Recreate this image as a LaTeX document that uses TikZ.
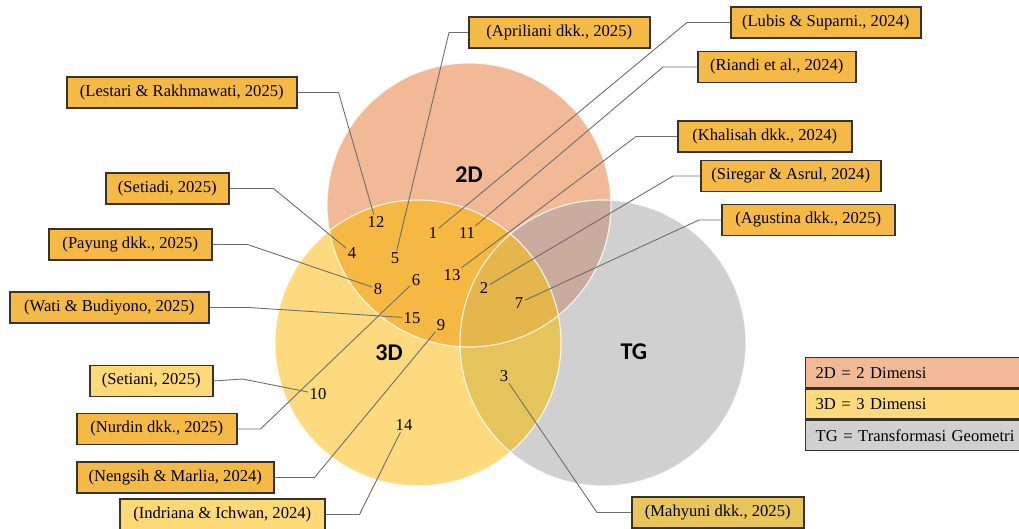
\documentclass[tikz,border=0pt]{standalone}
\usepackage{fontspec}
\setmainfont{Liberation Serif}
\newfontfamily\setfont{Carlito}
\usetikzlibrary{positioning}
\definecolor{twoD}{RGB}{242,185,150}
\definecolor{threeD}{RGB}{253,218,126}
\definecolor{geoT}{RGB}{208,208,208}
\definecolor{twothree}{RGB}{245,184,66}
\definecolor{twogeo}{RGB}{201,172,158}
\definecolor{threegeo}{RGB}{230,196,92}
\definecolor{allthree}{RGB}{228,182,76}
\definecolor{boxfill}{RGB}{245,186,69}
\definecolor{boxlight}{RGB}{253,217,120}
\definecolor{boxmix}{RGB}{232,197,90}
\definecolor{leadgray}{RGB}{110,110,110}
\definecolor{boxedge}{RGB}{55,50,45}
\tikzset{
    ref/.style={
        rectangle, draw=boxedge, line width=1.5pt, fill=boxfill,
        minimum height=31pt, anchor=west, inner xsep=4pt,
        font=\fontsize{16.6}{19}\selectfont
    },
    reflight/.style={ref, fill=boxlight},
    refmix/.style={ref, fill=boxmix},
    num/.style={inner sep=1.5pt, font=\fontsize{16.6}{19}\selectfont},
    setname/.style={font=\setfont\bfseries\fontsize{24}{27}\selectfont},
    leader/.style={draw=leadgray, line width=0.9pt},
    rim/.style={draw=white, line width=1.2pt, draw opacity=0.8},
    legendrow/.style={
        rectangle, draw=boxedge, line width=1.3pt, anchor=north west,
        minimum width=222pt, minimum height=30pt, text width=206pt,
        align=left, inner xsep=10pt, font=\fontsize{16.6}{19}\selectfont
    }
}
\begin{document}
\begin{tikzpicture}[x=1pt, y=-1pt]
\useasboundingbox (0,0) rectangle (1019,529);

% Circles
\def\circTwo{(469,205) circle (142)}
\def\circThree{(418,343) circle (143)}
\def\circGeo{(603,343) circle (143)}
\fill[twoD] \circTwo;
\fill[threeD] \circThree;
\fill[geoT] \circGeo;
\begin{scope}\clip \circTwo; \fill[twothree] \circThree; \fill[twogeo] \circGeo; \end{scope}
\begin{scope}\clip \circThree; \fill[threegeo] \circGeo; \end{scope}
\begin{scope}\clip \circTwo; \clip \circThree; \fill[allthree] \circGeo; \end{scope}
\draw[rim] \circTwo;
\draw[rim] \circThree;
\draw[rim] \circGeo;

% Set names
\node[setname] (name2d) at (469,175) {2D};
\node[setname] (name3d) at (389,353) {3D};
\node[setname] (nametg) at (634,352) {TG};

% Numbers
\node[num] (n1)  at (433,233) {1};
\node[num] (n2)  at (484,288) {2};
\node[num] (n3)  at (504,376) {3};
\node[num] (n4)  at (352,253) {4};
\node[num] (n5)  at (395,258) {5};
\node[num] (n6)  at (416,280) {6};
\node[num] (n7)  at (519,303) {7};
\node[num] (n8)  at (378,289) {8};
\node[num] (n9)  at (441,325) {9};
\node[num] (n10) at (318,394) {10};
\node[num] (n11) at (467,233) {11};
\node[num] (n12) at (376,222) {12};
\node[num] (n13) at (452,275) {13};
\node[num] (n14) at (404,425) {14};
\node[num] (n15) at (412,318) {15};

% References, left side
\node[ref, minimum width=230pt] (lestari)  at (66,92.5)  {(Lestari \& Rakhmawati, 2025)};
\node[ref, minimum width=123pt] (setiadi)  at (105,188.5) {(Setiadi, 2025)};
\node[ref, minimum width=163pt] (payung)   at (48,244.5)  {(Payung dkk., 2025)};
\node[ref, minimum width=199pt] (wati)     at (9,307.5)   {(Wati \& Budiyono, 2025)};
\node[reflight, minimum width=123pt] (setiani) at (89,381) {(Setiani, 2025)};
\node[ref, minimum width=160pt] (nurdin)   at (76,429)    {(Nurdin dkk., 2025)};
\node[ref, minimum width=197pt] (nengsih)  at (76,477.5)  {(Nengsih \& Marlia, 2024)};
\node[reflight, minimum width=205pt] (indriana) at (119,514.5) {(Indriana \& Ichwan, 2024)};

% References, right side
\node[ref, minimum width=181pt] (apriliani) at (468,32.5) {(Apriliani dkk., 2025)};
\node[ref, minimum width=190pt] (lubis)     at (730,22.5) {(Lubis \& Suparni., 2024)};
\node[ref, minimum width=158pt] (riandi)    at (697,67)   {(Riandi et al., 2024)};
\node[ref, minimum width=174pt] (khalisah)  at (677,136.5) {(Khalisah dkk., 2024)};
\node[ref, minimum width=180pt] (siregar)   at (700,176)  {(Siregar \& Asrul, 2024)};
\node[ref, minimum width=173pt] (agustina)  at (721,220)  {(Agustina dkk., 2025)};
\node[refmix, minimum width=172pt] (mahyuni) at (631,512.5) {(Mahyuni dkk., 2025)};

% Leaders
\draw[leader] (lestari.east)  -- ++(41,0) -- (n12);
\draw[leader] (setiadi.east)  -- ++(44,0) -- (n4);
\draw[leader] (payung.east)   -- ++(35,0) -- (n8);
\draw[leader] (wati.east)     -- ++(39,0) -- (n15);
\draw[leader] (setiani.east)  -- ++(29,-2) -- (n10);
\draw[leader] (nurdin.east)   -- ++(23,0) -- (n6);
\draw[leader] (nengsih.east)  -- ++(40,0) -- (n9);
\draw[leader] (indriana.east) -- ++(34,0) -- (n14);
\draw[leader] (apriliani.west) -- ++(-19,0) -- (n5);
\draw[leader] (lubis.west)     -- ++(-43,0) -- (n1);
\draw[leader] (riandi.west)    -- ++(-34,0) -- (n11);
\draw[leader] (khalisah.west)  -- ++(-41,0) -- (n13);
\draw[leader] (siregar.west)   -- ++(-27,0) -- (n2);
\draw[leader] (agustina.west)  -- ++(-22,0) -- (n7);
\draw[leader] (mahyuni.west)   -- ++(-34,0) -- (n3);

% Legend
\node[legendrow, fill=twoD]   (leg2d) at (805,357) {2D = 2 Dimensi};
\node[legendrow, fill=threeD, below=0pt of leg2d.south west, anchor=north west] (leg3d) {3D = 3 Dimensi};
\node[legendrow, fill=geoT,   below=0pt of leg3d.south west, anchor=north west] (legtg) {TG = Transformasi Geometri};

\end{tikzpicture}
\end{document}
